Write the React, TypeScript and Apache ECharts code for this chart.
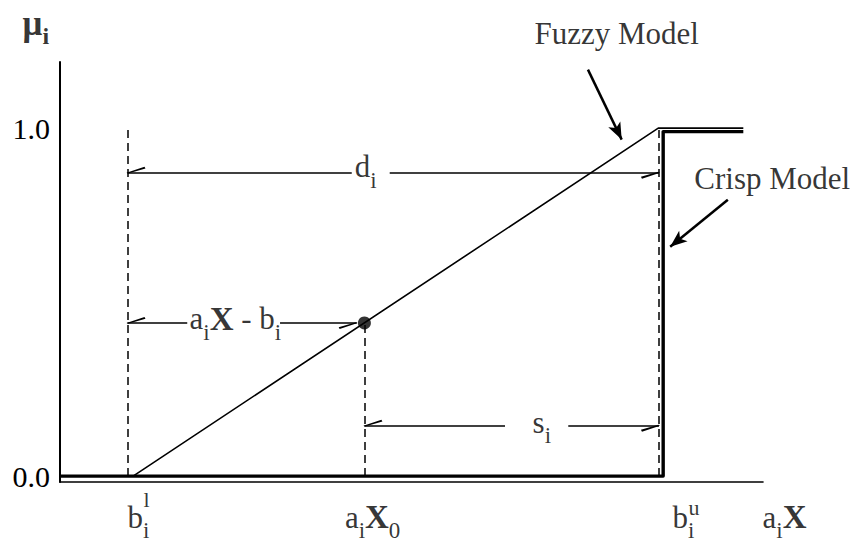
import React, { useEffect, useRef } from 'react';
import * as echarts from 'echarts';

const SERIF = '"Liberation Serif", "Times New Roman", "DejaVu Serif", serif';
const INK = '#000';

// Axis extents: a_iX runs 0..10, membership μ_i runs just below 0 to 1.19
const xExtent = [0, 10];
const muExtent = [-0.017, 1.19];
const muTicks = [0, 1];

// Key abscissae on the a_iX axis
const bLower = 0.96; // b_i^l
const aX0 = 4.33; // a_iX_0
const bUpper = 8.52; // b_i^u

// Membership functions
const fuzzyModel = [[0, 0], [1.04, 0], [8.51, 1], [9.72, 1]];
const crispModel = [[0, 0], [8.58, 0], [8.58, 0.99], [9.72, 0.99]];
const currentPoint = [aX0, 0.44];

// Dashed guide lines: [x, top of guide]
const guides = [[bLower, 1], [aX0, 0.44], [bUpper, 1]];

// Dimension arrows (d_i, a_iX - b_i, s_i)
const dimY = [0.872, 0.44, 0.145];
const dimFrom = [bLower, bLower, aX0];
const dimTo = [bUpper, 4.22, bUpper];
const dimGap = [[4.15, 4.69], [1.81, 3.13], [6.33, 7.23]];
const dimLabelX = [4.2, 1.85, 6.73];
const dimLabels = ['{m|d}{s|i}', '{m|a}{s|i}{mb|X}{m| - b}{s|i}', '{m|s}{s|i}'];

// Callouts pointing at the two models
const calloutText = ['Fuzzy Model', 'Crisp Model'];
const calloutFrom = [[7.51, 1.168], [9.5, 0.794]];
const calloutTo = [[7.99, 0.967], [8.68, 0.659]];

// Tick texts under the a_iX axis
const tickAnchors = [bLower, aX0, bUpper, xExtent[1]];
const tickTexts = ['{m|b}{s|i}', '{m|a}{s|i}{mb|X}{s|0}', '{m|b}{s|i}', '{m|a}{s|i}{mb|X}'];
const tickSupers = ['l', '', 'u', ''];

// Half-barb arrow head, tip at the centre of its box
const BARB = 'path://M0,0 L0.01,0 L0,0.01 Z M6,17 L12,35 L10.2,36 L5.2,18.6 Z';

const rich = {
  m: { fontFamily: SERIF, fontSize: 31, lineHeight: 50, color: INK },
  mb: { fontFamily: SERIF, fontSize: 33, lineHeight: 50, fontWeight: 'bold', color: INK },
  mu: { fontFamily: SERIF, fontSize: 35, lineHeight: 34, fontWeight: 'bold', color: INK },
  ib: { fontFamily: SERIF, fontSize: 24, lineHeight: 24, fontWeight: 'bold', color: INK },
  s: { fontFamily: SERIF, fontSize: 23, lineHeight: 23, verticalAlign: 'bottom', color: INK },
  p: { fontFamily: SERIF, fontSize: 22, lineHeight: 22, color: INK },
};

function textItem(value: number[], formatter: string, dx: number, dy: number) {
  return {
    value,
    label: {
      show: true,
      formatter,
      position: [dx, dy],
      align: 'left',
      verticalAlign: 'middle',
      rich,
    },
  };
}

function buildOption() {
  const texts: any[] = [];
  tickAnchors.forEach((x, i) => {
    const dx = [0.5, -19, 14, 0][i];
    texts.push(textItem([x, 0], tickTexts[i], dx, 41.5));
    if (tickSupers[i]) {
      const sdx = [16.5, 0, 30, 0][i];
      const sdy = [24, 0, 32, 0][i];
      texts.push(textItem([x, 0], `{p|${tickSupers[i]}}`, sdx, sdy));
    }
  });
  // μ_i, the name of the membership axis
  const muTop = [xExtent[0], muExtent[1]];
  texts.push(textItem(muTop, '{mu|μ}', -37, -38));
  texts.push(textItem(muTop, '{ib|i}', -17, -26));
  dimLabelX.forEach((x, i) => {
    texts.push(textItem([x, dimY[i]], dimLabels[i], 0, [-5.5, -3.5, -3][i]));
  });
  calloutText.forEach((t, i) => {
    texts.push(textItem(calloutFrom[i], `{m|${t}}`, [-53, -33][i], [-35.5, -20.5][i]));
  });

  const thin = { color: INK, width: 1.5, type: 'solid' };
  const dashed = { color: INK, width: 1.5, type: [8, 5] };
  const markData: any[] = [];
  guides.forEach(([x, top]) => {
    markData.push([{ coord: [x, 0], lineStyle: dashed }, { coord: [x, top] }]);
  });
  dimY.forEach((y, i) => {
    markData.push([
      { coord: [dimFrom[i], y], symbol: BARB, symbolSize: [12, 36], lineStyle: thin },
      { coord: [dimGap[i][0], y], symbol: 'none' },
    ]);
    markData.push([
      { coord: [dimGap[i][1], y], symbol: 'none', lineStyle: thin },
      { coord: [dimTo[i], y], symbol: BARB, symbolSize: [12, 36] },
    ]);
  });
  calloutFrom.forEach((from, i) => {
    markData.push([
      { coord: from, symbol: 'none', lineStyle: { color: INK, width: 2.5, type: 'solid' } },
      { coord: calloutTo[i], symbol: 'arrow', symbolSize: [10, 17] },
    ]);
  });

  return {
    animation: false,
    backgroundColor: '#fff',
    grid: { left: 60, right: 92, top: 62, bottom: 61, containLabel: false, outerBoundsMode: 'none' },
    xAxis: {
      type: 'value',
      min: xExtent[0],
      max: xExtent[1],
      axisLine: { show: true, onZero: false, lineStyle: { color: INK, width: 1.6 } },
      axisTick: { show: false },
      axisLabel: { show: false },
      splitLine: { show: false },
    },
    yAxis: {
      type: 'value',
      min: muExtent[0],
      max: muExtent[1],
      axisLine: { show: true, onZero: false, lineStyle: { color: INK, width: 2 } },
      axisTick: { show: false },
      splitLine: { show: false },
      axisLabel: {
        show: true,
        customValues: muTicks,
        formatter: (v: number) => v.toFixed(1),
        fontFamily: SERIF,
        fontSize: 30,
        color: INK,
        margin: 10,
      },
    },
    series: [
      {
        name: 'Fuzzy Model',
        type: 'line',
        data: fuzzyModel,
        symbol: 'none',
        silent: true,
        lineStyle: { color: INK, width: 1.6 },
        markLine: {
          silent: true,
          symbol: 'none',
          label: { show: false },
          data: markData,
        },
      },
      {
        name: 'Crisp Model',
        type: 'line',
        data: crispModel,
        symbol: 'none',
        silent: true,
        lineStyle: { color: INK, width: 3.4, join: 'round' },
      },
      {
        name: 'a_iX_0',
        type: 'scatter',
        data: [currentPoint],
        symbolSize: 13,
        silent: true,
        itemStyle: { color: INK },
      },
      {
        name: 'texts',
        type: 'scatter',
        data: texts,
        symbolSize: 1,
        silent: true,
        clip: false,
        itemStyle: { color: 'rgba(0,0,0,0)' },
      },
    ],
  };
}

export default function App() {
  const ref = useRef<HTMLDivElement>(null);
  useEffect(() => {
    if (!ref.current) return;
    const chart = echarts.init(ref.current, null, { renderer: 'svg' });
    chart.setOption(buildOption() as any);
    return () => chart.dispose();
  }, []);
  return (
    <div
      ref={ref}
      style={{ position: 'fixed', left: 0, top: 0, width: 855, height: 543, background: '#fff' }}
    />
  );
}
